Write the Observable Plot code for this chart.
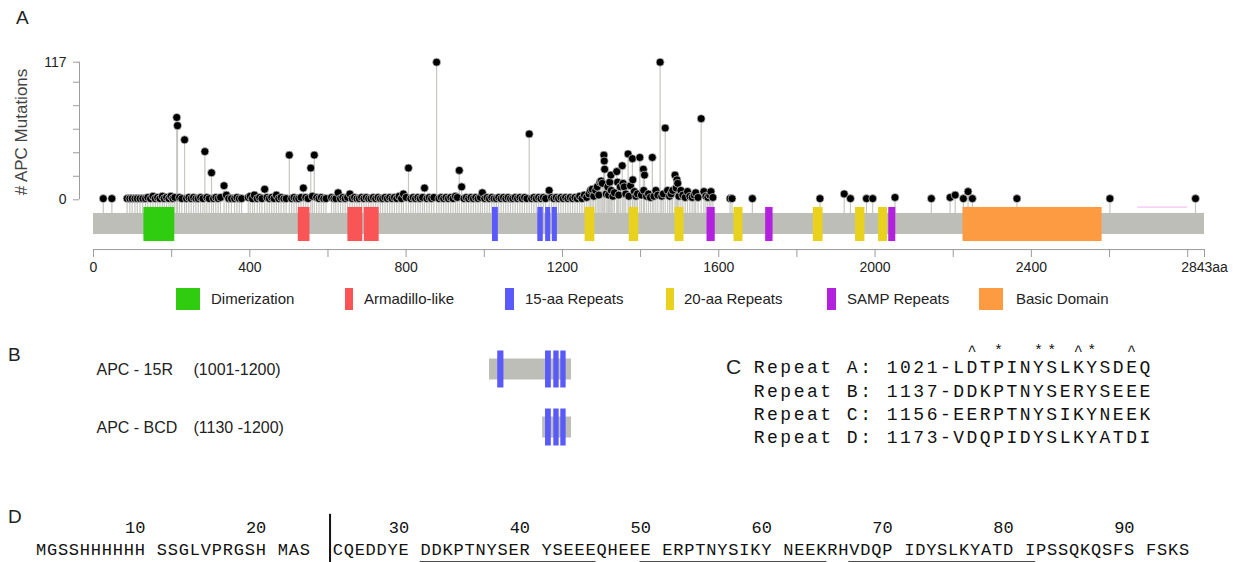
<!DOCTYPE html>
<html><head><meta charset="utf-8">
<script src="https://cdn.jsdelivr.net/npm/d3@7"></script>
<script src="https://cdn.jsdelivr.net/npm/@observablehq/plot@0.6"></script>
<style>
html,body{margin:0;padding:0;background:#fff;}
#chart{position:relative;width:1241px;height:562px;overflow:hidden;font-family:"Liberation Sans",Arial,sans-serif;color:#222;}
#chart svg{position:absolute;left:0;top:0;}
.lbl{position:absolute;line-height:1;color:#222;white-space:nowrap;}
.sw{position:absolute;}
</style></head><body><div id="chart"></div>
<script>
// ---------- Panel A data ----------
const proteinLength = 2843;
const mutationPos = [25,47,86,93,99,106,112,119,126,133,139,146,152,158,164,170,176,181,187,193,198,203,208,213,215,220,226,233,238,244,250,256,262,268,274,280,285,290,296,302,307,313,319,325,334,340,346,353,361,367,373,379,396,401,407,412,419,425,431,438,444,450,456,462,468,474,480,487,493,501,507,513,519,525,531,537,543,549,556,560,565,571,577,583,589,595,609,615,620,626,632,638,644,650,656,662,668,674,680,686,692,698,704,710,716,722,728,734,740,746,752,758,764,770,776,782,788,793,800,806,812,818,824,830,836,842,847,853,859,865,871,878,884,890,896,902,908,914,920,926,931,936,942,948,954,960,966,972,978,984,990,995,1001,1007,1013,1019,1025,1031,1037,1043,1049,1055,1061,1067,1073,1079,1085,1091,1097,1103,1109,1115,1121,1127,1133,1139,1145,1151,1157,1166,1172,1178,1184,1190,1196,1202,1208,1214,1220,1226,1232,1238,1244,1250,1256,1262,1268,1272,1276,1280,1285,1289,1293,1296,1299,1302,1306,1307,1308,1312,1316,1318,1321,1324,1325,1329,1333,1339,1341,1344,1348,1353,1355,1358,1362,1368,1370,1374,1379,1380,1384,1388,1392,1398,1402,1407,1408,1410,1415,1420,1425,1430,1434,1439,1444,1450,1454,1458,1463,1469,1474,1478,1482,1488,1491,1493,1495,1498,1503,1508,1514,1520,1526,1532,1537,1541,1547,1555,1562,1567,1572,1577,1580,1585,1629,1634,1686,1859,1921,1937,1978,1994,2051,2144,2192,2205,2226,2238,2249,2363,2601,2820];
const mutationCount = [1,1,1,1,1,1,1,1,1,1,2,1,3,1,2,1,3,1,2,1,3,1,2,70,63,2,1,51,1,2,1,2,1,1,2,1,41,2,1,23,1,2,1,2,12,4,1,1,1,2,1,1,2,3,1,4,1,2,1,9,2,1,2,1,4,1,2,1,1,38,1,2,1,1,2,10,2,1,27,3,38,2,1,2,1,1,2,1,1,6,1,2,1,2,5,1,2,1,1,2,1,2,1,1,2,1,2,1,1,2,1,2,1,2,1,3,1,5,2,27,1,2,1,2,1,2,10,1,2,1,2,117,1,2,1,2,1,2,1,3,2,25,11,1,2,1,2,1,2,1,2,6,1,2,1,2,1,1,2,1,2,1,2,1,1,2,1,2,1,2,1,56,1,2,1,2,1,2,1,8,2,1,2,1,2,1,2,1,2,1,2,1,3,1,4,2,5,8,9,3,8,11,4,15,16,14,38,33,26,5,11,4,15,21,8,3,6,24,15,4,11,29,14,11,5,39,3,12,35,17,7,3,5,36,4,26,8,21,3,5,2,36,3,8,4,117,3,5,61,8,3,5,8,21,10,17,14,3,8,4,2,7,3,2,4,6,2,69,7,3,2,4,7,2,1,1,1,1,5,1,1,1,2,1,2,4,1,7,1,1,1,1];
const yTicks = [0,20,40,60,80,100,117];
const yTickLabels = ["0","","","","","","117"];
const xTicks = [0,200,400,600,800,1000,1200,1400,1600,1800,2000,2200,2400,2600,2800,2843];
const xTickLabels = ["0","","400","","800","","1200","","1600","","2000","","2400","","","2843aa"];
const yAxisLabel = "# APC Mutations";

const domainNames = ["Dimerization","Armadillo-like","15-aa Repeats","20-aa Repeats","SAMP Repeats","Basic Domain"];
const domainColors = ["#2fcc10","#f95557","#5a5afa","#e9d21d","#b421de","#fd9b42"];
const domainType  = ["Dimerization","Armadillo-like","Armadillo-like","Armadillo-like","15-aa Repeats","15-aa Repeats","15-aa Repeats","15-aa Repeats","20-aa Repeats","20-aa Repeats","20-aa Repeats","20-aa Repeats","20-aa Repeats","20-aa Repeats","20-aa Repeats","SAMP Repeats","SAMP Repeats","SAMP Repeats","Basic Domain"];
const domainStart = [129,524,651,693,1021,1137,1157,1174,1258,1371,1488,1639,1842,1950,2009,1570,1720,2035,2225];
const domainEnd   = [208,554,689,731,1036,1151,1170,1187,1283,1395,1511,1662,1867,1974,2032,1591,1739,2053,2581];
const faintRegion = [2672,2800];

// ---------- Panel B data ----------
const constructNames = ["APC - 15R","APC - BCD"];
const constructRangeLabels = ["(1001-1200)","(1130 -1200)"];
const constructStart = [1001,1130];
const constructEnd = [1200,1200];
const constructRepeatName = ["APC - 15R","APC - 15R","APC - 15R","APC - 15R","APC - BCD","APC - BCD","APC - BCD"];
const constructRepeatStart = [1021,1137,1157,1174,1137,1157,1174];
const constructRepeatEnd   = [1036,1151,1170,1187,1151,1170,1187];

// ---------- Panel C data ----------
const repeatLabels = ["Repeat A:","Repeat B:","Repeat C:","Repeat D:"];
const repeatStarts = [1021,1137,1156,1173];
const repeatSeqs = ["LDTPINYSLKYSDEQ","DDKPTNYSERYSEEE","EERPTNYSIKYNEEK","VDQPIDYSLKYATDI"];
const conservationMarks = " ^ *  ** ^*  ^ ";

// ---------- Panel D data ----------
const seqGroups = ["MGSSHHHHHH","SSGLVPRGSH","MAS |CQEDDYE","DDKPTNYSER","YSEEEQHEEE","ERPTNYSIKY","NEEKRHVDQP","IDYSLKYATD","IPSSQKQSFS","FSKS"];
const underlineStart = [31,50,67];
const underlineEnd = [45,64,81];

// ---------- build ----------
const chart = document.getElementById("chart");
const FONT = "Liberation Sans, Arial, sans-serif";
const MONO = "Liberation Mono, DejaVu Sans Mono, monospace";
const baseStyle = {background:"transparent", overflow:"visible", fontFamily:FONT};

const mutations = mutationPos.map((aa,i)=>({aa, n:mutationCount[i]}));
const domains = domainStart.map((s,i)=>({start:s, end:domainEnd[i], type:domainType[i]}));
const yLab = new Map(yTicks.map((t,i)=>[t,yTickLabels[i]]));
const xLab = new Map(xTicks.map((t,i)=>[t,xTickLabels[i]]));
const BAR_TOP=-11.6, BAR_BOTTOM=-29.5, DOM_TOP=-6.5, DOM_BOTTOM=-35.5, AXIS_Y=-42.3;

const plotA = Plot.plot({
  width:1241, height:562, marginLeft:79, marginRight:37, marginTop:0, marginBottom:313,
  style:baseStyle,
  x:{domain:[0,proteinLength], range:[93,1204]},
  y:{domain:[0,117], range:[199.3,61.7]},
  color:{domain:domainNames, range:domainColors},
  marks:[
    Plot.ruleX([0],{y1:0, y2:117, dx:-14, stroke:"#9c9c9c"}),
    Plot.axisY({ticks:yTicks, tickFormat:d=>yLab.get(d), tickSize:6, tickPadding:7, label:null, fontSize:14, fill:"#222", stroke:"#9c9c9c"}),
    Plot.ruleY([AXIS_Y],{x1:0, x2:proteinLength, stroke:"#9c9c9c"}),
    Plot.axisX({ticks:xTicks, tickFormat:d=>xLab.get(d), tickSize:8, tickPadding:5, label:null, fontSize:14, fill:"#222", stroke:"#9c9c9c"}),
    Plot.ruleX(mutations,{x:"aa", y1:BAR_TOP, y2:"n", stroke:"#c6c7c1", strokeWidth:1.2}),
    Plot.rect([{start:0,end:proteinLength}],{x1:"start", x2:"end", y1:BAR_TOP, y2:BAR_BOTTOM, fill:"#bdbeb7"}),
    Plot.rect(domains,{x1:"start", x2:"end", y1:DOM_TOP, y2:DOM_BOTTOM, fill:"type"}),
    Plot.ruleY([{a:faintRegion[0], b:faintRegion[1]}],{x1:"a", x2:"b", y:DOM_TOP+0.3, stroke:"#f2b5f0", strokeWidth:1}),
    Plot.dot(mutations,{x:"aa", y:"n", r:4, fill:"#000", stroke:"#d4d4d4", strokeWidth:0.7})
  ]
});
chart.appendChild(plotA);

// Panel B
const constructs = constructNames.map((n,i)=>({name:n, start:constructStart[i], end:constructEnd[i], range:constructRangeLabels[i]}));
const cRepeats = constructRepeatName.map((n,i)=>({name:n, start:constructRepeatStart[i], end:constructRepeatEnd[i]}));
const plotB = Plot.plot({
  width:1241, height:562, margin:0, style:baseStyle,
  x:{domain:[1001,1200], range:[489,571], axis:null},
  y:{type:"band", domain:constructNames, range:[339.25,456.25], padding:0, axis:null},
  marks:[
    Plot.barX(constructs,{x1:"start", x2:"end", y:"name", fill:"#bdbeb7", insetTop:18.5, insetBottom:18.5}),
    Plot.barX(cRepeats,{x1:"start", x2:"end", y:"name", fill:"#5a5afa", insetTop:10.5, insetBottom:10.5}),
    Plot.text(constructs,{y:"name", text:"name", frameAnchor:"left", dx:96, textAnchor:"start", fontSize:16, fill:"#222"}),
    Plot.text(constructs,{y:"name", text:"range", frameAnchor:"left", dx:193, textAnchor:"start", fontSize:16, fill:"#222"})
  ]
});
chart.appendChild(plotB);

// Panel C
const cChars = [], cMarks = [];
repeatLabels.forEach((lab,r)=>{
  const line = `${lab} ${repeatStarts[r]}-${repeatSeqs[r]}`;
  [...line].forEach((ch,c)=>{ if(ch!==" ") cChars.push({r, c, ch}); });
});
const markOffset = `${repeatLabels[0]} ${repeatStarts[0]}-`.length;
[...conservationMarks].forEach((ch,i)=>{ if(ch!==" ") cMarks.push({r:-0.75, c:markOffset+i, ch}); });
const plotC = Plot.plot({
  width:1241, height:562, margin:0, style:baseStyle,
  x:{domain:[0,30], range:[752,1151], axis:null},
  y:{domain:[0,3], range:[367,437.2], axis:null},
  marks:[
    Plot.text(cChars,{x:d=>d.c+0.5, y:"r", text:"ch", fontFamily:MONO, fontSize:18, fill:"#111"}),
    Plot.text(cMarks,{x:d=>d.c+0.5, y:"r", text:"ch", fontFamily:MONO, fontSize:15, fill:"#111"})
  ]
});
chart.appendChild(plotC);

// Panel D
const seqLine = seqGroups.join(" ");
const dChars = [], dNums = [], resCol = new Map();
let res = 0, dividerCol = null;
[...seqLine].forEach((ch,c)=>{
  if (ch === " ") return;
  if (ch === "|") { dividerCol = c; return; }
  res++; resCol.set(res, c);
  dChars.push({c, ch});
  if (res % 10 === 0) dNums.push({c, label:String(res)});
});
const underlines = underlineStart.map((s,i)=>({a:resCol.get(s), b:resCol.get(underlineEnd[i])+1}));
const plotD = Plot.plot({
  width:1241, height:562, margin:0, style:baseStyle,
  x:{domain:[0,seqLine.length], range:[35,1189], axis:null},
  y:{domain:[0,1], range:[527,549], axis:null},
  marks:[
    Plot.text(dNums,{x:d=>d.c+1, y:0, text:"label", textAnchor:"end", fontFamily:MONO, fontSize:17, fill:"#111"}),
    Plot.text(dChars,{x:d=>d.c+0.5, y:1, text:"ch", fontFamily:MONO, fontSize:17, fill:"#111"}),
    Plot.ruleY(underlines,{x1:"a", x2:"b", y:1.57, stroke:"#111", strokeWidth:1.6}),
    Plot.ruleX([dividerCol+0.8],{y1:-0.6, y2:1.62, stroke:"#111", strokeWidth:2})
  ]
});
chart.appendChild(plotD);

// Legend (HTML)
const legSwatchLeft = [176,345,505,666,827,979];
const legSwatchWidth = [24,8,9,8,9,24];
const legTextLeft = [211,364,525,684,847,1016];
domainNames.forEach((name,i)=>{
  const s = document.createElement("div");
  s.className = "sw";
  s.style.cssText = `left:${legSwatchLeft[i]}px;top:288px;width:${legSwatchWidth[i]}px;height:22px;background:${domainColors[i]};`;
  chart.appendChild(s);
  const t = document.createElement("div");
  t.className = "lbl";
  t.style.cssText = `left:${legTextLeft[i]}px;top:291px;font-size:15px;`;
  t.textContent = name;
  chart.appendChild(t);
});

// Y axis title (rotated)
const yt = document.createElement("div");
yt.className = "lbl";
yt.style.cssText = "left:21px;top:132px;font-size:17px;color:#444;transform:translate(-50%,-50%) rotate(-90deg);";
yt.textContent = yAxisLabel;
chart.appendChild(yt);

// Panel letters
[["A",16,8,19],["B",8,345,19],["C",726,356,21],["D",8,507,19]].forEach(([txt,l,t,fs])=>{
  const d = document.createElement("div");
  d.className = "lbl";
  d.style.cssText = `left:${l}px;top:${t}px;font-size:${fs}px;`;
  d.textContent = txt;
  chart.appendChild(d);
});
</script></body></html>
